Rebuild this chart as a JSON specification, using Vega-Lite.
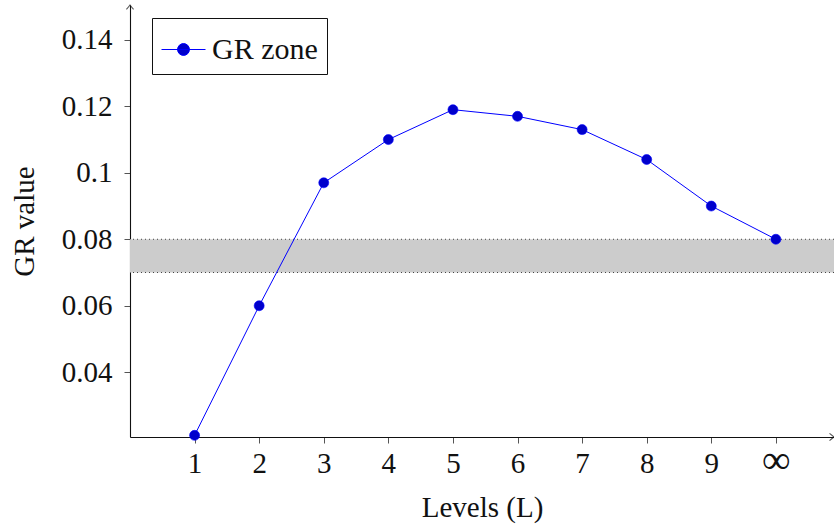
{
  "$schema": "https://vega.github.io/schema/vega-lite/v6.json",
  "width": 704,
  "height": 432,
  "autosize": {"type": "none"},
  "padding": {"left": 130, "top": 5, "right": 0, "bottom": 93},
  "background": "white",
  "config": {
    "view": {"stroke": null},
    "font": "'Liberation Serif', 'Times New Roman', serif",
    "axis": {
      "grid": false,
      "domainColor": "#111111",
      "domainWidth": 1.1,
      "tickColor": "#555555",
      "tickWidth": 1,
      "tickSize": 6,
      "labelFont": "'Liberation Serif', 'Times New Roman', serif",
      "labelFontSize": 29,
      "labelColor": "#111111",
      "titleFont": "'Liberation Serif', 'Times New Roman', serif",
      "titleFontSize": 29,
      "titleFontWeight": "normal",
      "titleColor": "#111111",
      "zindex": 1
    },
    "legend": {
      "orient": "none",
      "legendX": 22,
      "legendY": 13,
      "strokeColor": "#111111",
      "fillColor": "white",
      "padding": 9,
      "cornerRadius": 0,
      "labelFont": "'Liberation Serif', 'Times New Roman', serif",
      "labelFontSize": 30,
      "labelColor": "#111111",
      "labelOffset": 6,
      "symbolType": "M-1,0H1M0.27,0A0.27,0.27,0,1,1,-0.27,0A0.27,0.27,0,1,1,0.27,0Z",
      "symbolSize": 1936,
      "symbolStrokeWidth": 1,
      "symbolStrokeColor": "#0000ff",
      "symbolFillColor": "#0000cc"
    }
  },
  "datasets": {
    "levels": [
      {"level": 1, "gr": 0.021, "series": "GR zone"},
      {"level": 2, "gr": 0.06, "series": "GR zone"},
      {"level": 3, "gr": 0.097, "series": "GR zone"},
      {"level": 4, "gr": 0.11, "series": "GR zone"},
      {"level": 5, "gr": 0.119, "series": "GR zone"},
      {"level": 6, "gr": 0.117, "series": "GR zone"},
      {"level": 7, "gr": 0.113, "series": "GR zone"},
      {"level": 8, "gr": 0.104, "series": "GR zone"},
      {"level": 9, "gr": 0.09, "series": "GR zone"},
      {"level": 10, "gr": 0.08, "series": "GR zone"}
    ],
    "zone": [{"lo": 0.07, "hi": 0.08}],
    "axisEnds": [{"xEnd": 10.9, "yEnd": 0.1505, "xStart": 0, "yStart": 0.0205}]
  },
  "layer": [
    {
      "data": {"name": "zone"},
      "mark": {"type": "rect", "fill": "#cccccc"},
      "encoding": {
        "x": {"datum": 0, "type": "quantitative", "scale": {"domain": [0, 10.9], "nice": false, "zero": false},
          "axis": {
            "values": [1, 2, 3, 4, 5, 6, 7, 8, 9, 10],
            "labelExpr": "datum.value == 10 ? '∞' : datum.value",
            "labelFontSize": {"expr": "datum.value == 10 ? 40 : 29"},
            "labelPadding": {"expr": "datum.value == 10 ? -3 : 6"},
            "title": "Levels (L)",
            "titlePadding": 13
          }
        },
        "x2": {"datum": 10.9},
        "y": {"field": "lo", "type": "quantitative", "scale": {"domain": [0.0205, 0.1505], "nice": false, "zero": false},
          "axis": {
            "values": [0.04, 0.06, 0.08, 0.1, 0.12, 0.14],
            "format": ".2~f",
            "labelPadding": 12,
            "title": "GR value",
            "titlePadding": 22
          }
        },
        "y2": {"field": "hi"}
      }
    },
    {
      "data": {"name": "zone"},
      "mark": {"type": "rule", "stroke": "#444444", "strokeWidth": 1, "strokeDash": [1, 3]},
      "encoding": {"y": {"field": "lo", "type": "quantitative"}}
    },
    {
      "data": {"name": "zone"},
      "mark": {"type": "rule", "stroke": "#444444", "strokeWidth": 1, "strokeDash": [1, 3]},
      "encoding": {"y": {"field": "hi", "type": "quantitative"}}
    },
    {
      "data": {"name": "levels"},
      "mark": {"type": "line", "stroke": "#0000ff", "strokeWidth": 1},
      "encoding": {
        "x": {"field": "level", "type": "quantitative"},
        "y": {"field": "gr", "type": "quantitative"}
      }
    },
    {
      "data": {"name": "levels"},
      "mark": {"type": "point", "filled": true, "size": 100, "opacity": 1, "stroke": "#0000ff", "strokeWidth": 0.6},
      "encoding": {
        "x": {"field": "level", "type": "quantitative"},
        "y": {"field": "gr", "type": "quantitative"},
        "color": {
          "field": "series",
          "type": "nominal",
          "scale": {"domain": ["GR zone"], "range": ["#0000cc"]},
          "legend": {"title": null}
        }
      }
    },
    {
      "data": {"name": "axisEnds"},
      "mark": {"type": "point", "shape": "M-0.8,1 Q-0.3,0.4 0,0 Q0.3,0.4 0.8,1", "filled": false, "stroke": "#111111", "strokeWidth": 1.1, "size": 80},
      "encoding": {
        "x": {"field": "xStart", "type": "quantitative"},
        "y": {"field": "yEnd", "type": "quantitative"}
      }
    },
    {
      "data": {"name": "axisEnds"},
      "mark": {"type": "point", "shape": "M-1,-0.8 Q-0.4,-0.3 0,0 Q-0.4,0.3 -1,0.8", "filled": false, "stroke": "#111111", "strokeWidth": 1.1, "size": 80},
      "encoding": {
        "x": {"field": "xEnd", "type": "quantitative"},
        "y": {"field": "yStart", "type": "quantitative"}
      }
    }
  ]
}
